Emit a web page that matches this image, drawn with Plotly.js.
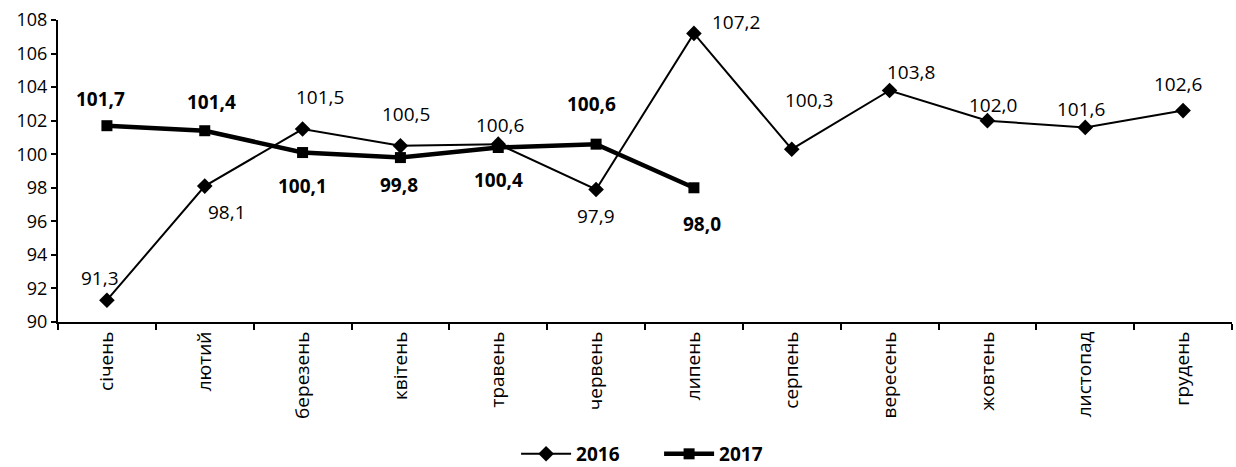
<!DOCTYPE html>
<html><head><meta charset="utf-8">
<script src="https://cdn.plot.ly/plotly-3.0.1.min.js"></script>
<style>html,body{margin:0;padding:0;background:#fff}#chart{width:1236px;height:467px}</style>
</head><body><div id="chart"></div>
<script>
var months = ['січень','лютий','березень','квітень','травень','червень','липень','серпень','вересень','жовтень','листопад','грудень'];
var values2016 = [91.3, 98.1, 101.5, 100.5, 100.6, 97.9, 107.2, 100.3, 103.8, 102.0, 101.6, 102.6];
var values2017 = [101.7, 101.4, 100.1, 99.8, 100.4, 100.6, 98.0];
var yTicks = [90, 92, 94, 96, 98, 100, 102, 104, 106, 108];

// label offsets (px) for data labels (positive y = up)
var off2016x = [-7, 22, 17, 6, 2, 0, 42, 17, 21, 6, -4, -5];
var off2016y = [22, -26, 32, 32, 19, -27, 11, 49, 18, 16, 18, 27];
var off2017x = [-6, 7, 0, -1, 0, -5, 8];
var off2017y = [27, 29, -33, -27, -32, 40, -36];

function fmt(v){ return v.toFixed(1).replace('.', ','); }
var FONT = '"Open Sans", "Noto Sans", sans-serif';

var traces = [
  {x: months, y: values2016, name: '2016', type: 'scatter', mode: 'lines+markers',
   line: {color: '#000', width: 2}, marker: {symbol: 'diamond', size: 12, color: '#000'}},
  {x: months.slice(0, values2017.length), y: values2017, name: '2017', type: 'scatter', mode: 'lines+markers',
   line: {color: '#000', width: 4.5}, marker: {symbol: 'square', size: 11, color: '#000'}}
];

var ann = [];
values2016.forEach(function(v, i){
  ann.push({x: months[i], y: v, xref: 'x', yref: 'y', text: fmt(v), showarrow: false,
    xshift: off2016x[i], yshift: off2016y[i], font: {family: FONT, size: 19, color: '#000'}});
});
values2017.forEach(function(v, i){
  ann.push({x: months[i], y: v, xref: 'x', yref: 'y', text: '<b>' + fmt(v) + '</b>', showarrow: false,
    xshift: off2017x[i], yshift: off2017y[i], font: {family: FONT, size: 19, color: '#000'}});
});

var layout = {
  width: 1236, height: 467,
  margin: {l: 58, r: 4, t: 20, b: 145, autoexpand: false},
  paper_bgcolor: '#fff', plot_bgcolor: '#fff',
  separators: ',.',
  showlegend: true,
  legend: {orientation: 'h', x: 0.512, xanchor: 'center', y: -0.437, yanchor: 'middle',
    itemwidth: 50, traceorder: 'normal', entrywidth: 78, entrywidthmode: 'pixels',
    font: {family: FONT, size: 19, color: '#000', weight: 'bold'}},
  xaxis: {type: 'category', range: [-0.5, 11.5], showgrid: false, zeroline: false, automargin: false,
    showline: true, linecolor: '#000', linewidth: 2,
    ticks: 'outside', ticklen: 6, tickwidth: 2, tickcolor: '#000', tickson: 'boundaries',
    tickangle: -90, tickfont: {family: FONT, size: 19, color: '#000'}},
  yaxis: {range: [90, 108], tickvals: yTicks, ticktext: yTicks.map(String), showgrid: false, zeroline: false, automargin: false,
    showline: true, linecolor: '#000', linewidth: 2,
    ticks: 'outside', ticklen: 5, tickwidth: 2, tickcolor: '#000',
    tickfont: {family: FONT, size: 18, color: '#000'}},
  annotations: ann
};

Plotly.newPlot('chart', traces, layout, {displayModeBar: false, staticPlot: true});
</script></body></html>
